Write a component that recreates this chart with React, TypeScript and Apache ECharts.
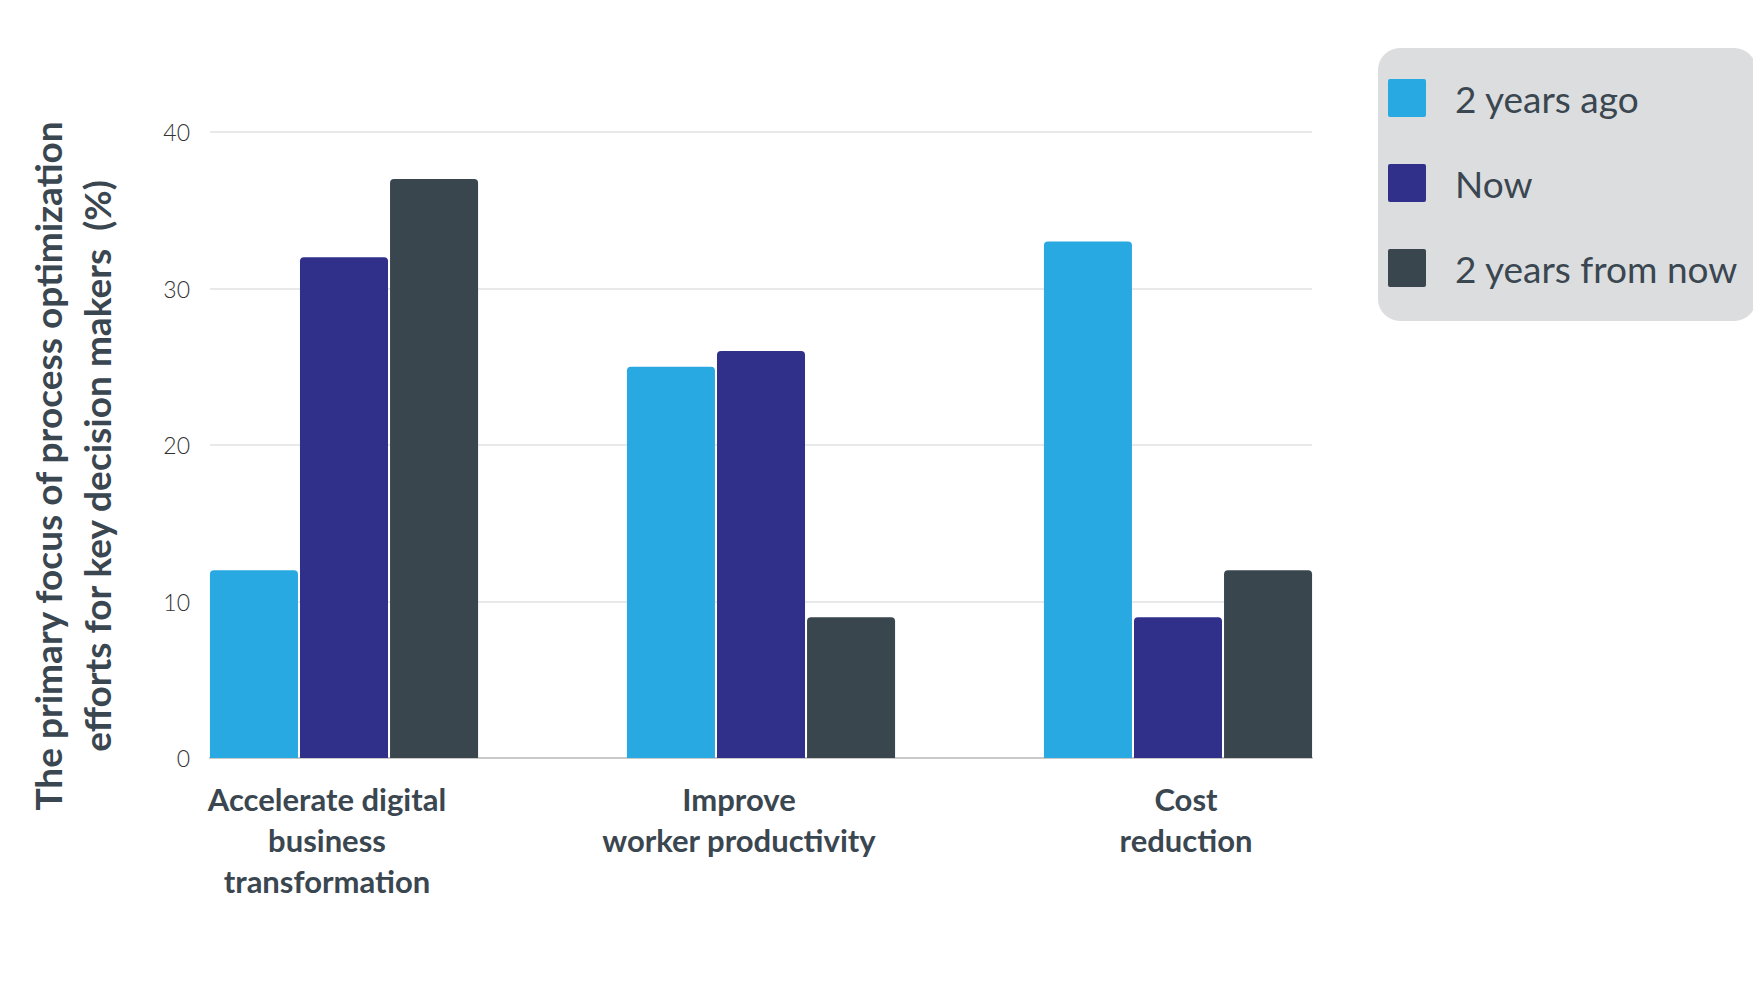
import React, { useEffect, useRef } from "react";
import * as echarts from "echarts";

const categories = [
  "Accelerate digital\nbusiness\ntransformation",
  "Improve\nworker productivity",
  "Cost\nreduction",
];
const seriesNames = ["2 years ago", "Now", "2 years from now"];
const twoYearsAgo = [12, 25, 33];
const nowValues = [32, 26, 9];
const twoYearsFromNow = [37, 9, 12];
const yTicks = { min: 0, max: 40, interval: 10 };
const colors = ["#28a9e1", "#30308a", "#3a464e"];
const yAxisTitle = "The primary focus of process optimization\nefforts for key decision makers  (%)";

const FONT = "Lato, 'Noto Sans', sans-serif";
const TEXT = "#3a4650";

const labelBase = {
  fontFamily: FONT,
  fontWeight: "bold",
  fontSize: 31,
  lineHeight: 41,
  color: TEXT,
  align: "center",
};

export default function App() {
  const ref = useRef<HTMLDivElement>(null);
  useEffect(() => {
    if (!ref.current) return;
    const chart = echarts.init(ref.current, null, { renderer: "svg" });
    const values = [twoYearsAgo, nowValues, twoYearsFromNow];
    chart.setOption({
      animation: false,
      backgroundColor: "#ffffff",
      textStyle: { fontFamily: FONT },
      grid: [
        { left: 210, right: 441, top: 132, bottom: 228 },
        { left: 135.5, right: 366.5, top: 132, bottom: 228 },
      ],
      legend: {
        orient: "vertical",
        left: 1378,
        top: 48,
        data: seriesNames,
        backgroundColor: "#dcdddf",
        borderRadius: 22,
        padding: [31, 18, 34, 10],
        itemWidth: 38,
        itemHeight: 38,
        itemGap: 47,
        icon: "path://M2,0 L36,0 Q38,0 38,2 L38,36 Q38,38 36,38 L2,38 Q0,38 0,36 L0,2 Q0,0 2,0 Z",
        textStyle: {
          fontFamily: FONT,
          fontSize: 37,
          color: TEXT,
          padding: [0, 0, 0, 24],
        },
      },
      xAxis: [
        {
          type: "category",
          gridIndex: 0,
          data: categories,
          axisLine: { show: true, lineStyle: { color: "#c9c9c9", width: 2 } },
          axisTick: { show: false },
          axisLabel: { show: false },
          splitLine: { show: false },
        },
        {
          type: "category",
          gridIndex: 1,
          data: categories,
          axisLine: { show: false },
          axisTick: { show: false },
          axisLabel: {
            show: true,
            interval: 0,
            hideOverlap: false,
            margin: 20,
            ...labelBase,
            formatter: (value: string, index: number) =>
              value
                .split("\n")
                .map((l) => `{r${index}|${l}}`)
                .join("\n"),
            rich: {
              r0: { ...labelBase, padding: [0, 34, 0, 0] },
              r1: { ...labelBase, padding: [0, 44, 0, 0] },
              r2: { ...labelBase, padding: [0, 0, 0, 16] },
            },
          },
        },
      ],
      yAxis: [
        {
          type: "value",
          gridIndex: 0,
          min: yTicks.min,
          max: yTicks.max,
          interval: yTicks.interval,
          axisLine: { show: false },
          axisTick: { show: false },
          axisLabel: {
            margin: 20,
            fontFamily: FONT,
            fontWeight: 300,
            fontSize: 23,
            color: "#333333",
          },
          splitLine: { show: true, lineStyle: { color: "#e2e2e2", width: 1.5 } },
        },
        {
          type: "value",
          gridIndex: 1,
          min: yTicks.min,
          max: yTicks.max,
          interval: yTicks.interval,
          show: false,
          splitLine: { show: false },
        },
      ],
      series: seriesNames.map((name, i) => ({
        name,
        type: "bar",
        xAxisIndex: 1,
        yAxisIndex: 1,
        data: values[i],
        barGap: "2.3%",
        barCategoryGap: "35.7%",
        itemStyle: { color: colors[i], borderRadius: [4, 4, 0, 0] },
      })),
      graphic: [
        {
          type: "text",
          x: 72,
          y: 466,
          rotation: Math.PI / 2,
          style: {
            text: yAxisTitle,
            fontFamily: FONT,
            fontWeight: "bold",
            fontSize: 37,
            lineHeight: 49,
            fill: TEXT,
            align: "center",
            verticalAlign: "middle",
          },
        },
      ],
    });
    return () => chart.dispose();
  }, []);
  return (
    <div
      ref={ref}
      style={{ position: "fixed", left: 0, top: 0, width: 1753, height: 986 }}
    />
  );
}
